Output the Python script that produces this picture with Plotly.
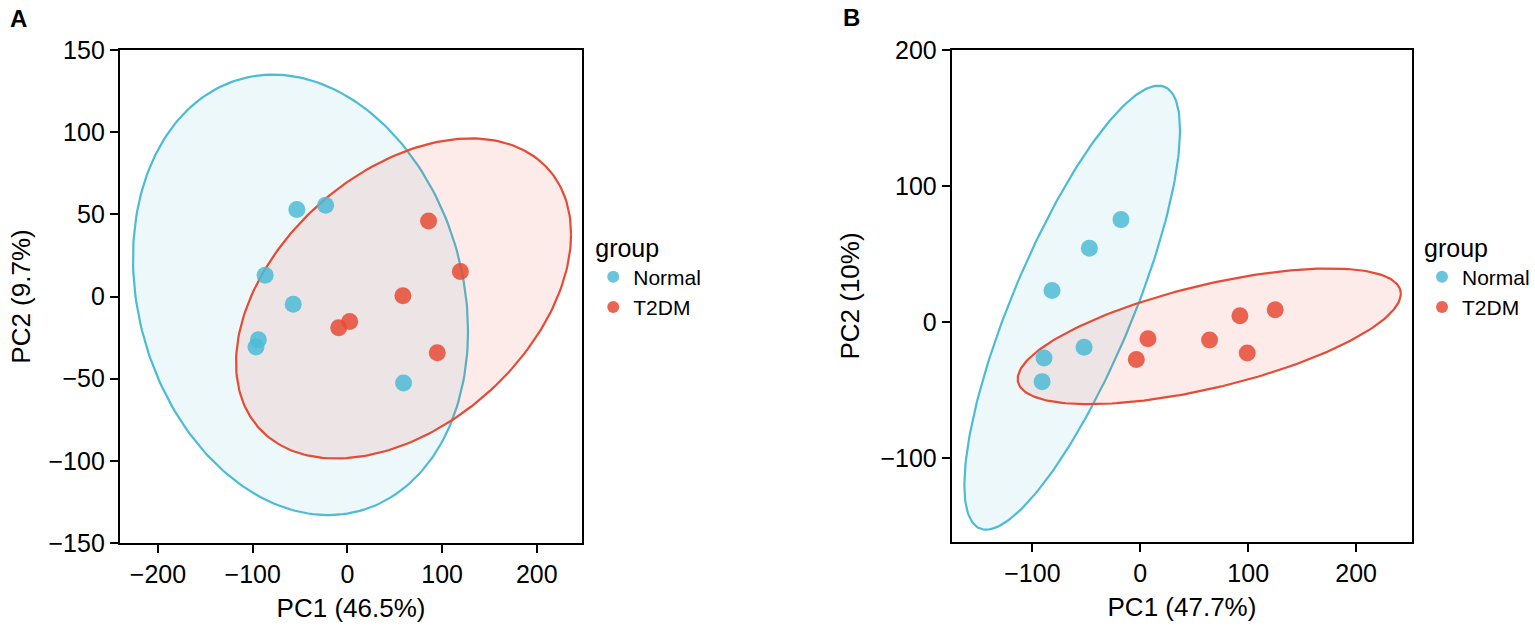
import numpy as np
import plotly.graph_objects as go

# ---------------- data ----------------
groups = ["Normal", "T2DM"]
colors_line = {"Normal": "#4DBBD5", "T2DM": "#E64B35"}
colors_pt = {"Normal": "rgba(77,187,213,0.85)", "T2DM": "rgba(230,75,53,0.85)"}
colors_fill = {"Normal": "rgba(77,187,213,0.10)", "T2DM": "rgba(230,75,53,0.11)"}

# Panel A scores
a_normal_pc1 = [-53.4, -23.0, -86.9, -57.2, -94.0, -96.5, 59.3]
a_normal_pc2 = [52.9, 55.5, 12.9, -4.7, -26.3, -30.8, -52.7]
a_t2dm_pc1 = [85.7, 119.3, 58.6, 2.4, -9.2, 94.9]
a_t2dm_pc2 = [46.0, 15.2, 0.4, -15.2, -19.0, -34.2]

# Panel B scores
b_normal_pc1 = [-17.9, -47.2, -81.8, -52.1, -89.2, -91.0]
b_normal_pc2 = [75.3, 54.3, 23.2, -18.6, -26.4, -43.8]
b_t2dm_pc1 = [7.1, -3.7, 64.2, 92.3, 125.0, 99.1]
b_t2dm_pc2 = [-12.2, -27.6, -13.2, 4.6, 9.0, -22.7]

# 95% ellipse parameters: centre x, centre y, half-width x, half-height y, correlation
a_normal_ellipse = [-49.5, 1.0, 176.9, 134.0, -0.165]
a_t2dm_ellipse = [59.3, -1.2, 176.9, 97.4, 0.402]
b_normal_ellipse = [-63.1, 10.6, 99.9, 163.2, 0.799]
b_t2dm_ellipse = [63.9, -10.5, 177.5, 49.9, 0.627]

a_xticks = [-200, -100, 0, 100, 200]
a_yticks = [-150, -100, -50, 0, 50, 100, 150]
b_xticks = [-100, 0, 100, 200]
b_yticks = [-100, 0, 100, 200]

a_xtitle, a_ytitle = "PC1 (46.5%)", "PC2 (9.7%)"
b_xtitle, b_ytitle = "PC1 (47.7%)", "PC2 (10%)"
legend_title = "group"
panel_labels = ["A", "B"]

# ---------------- figure ----------------
W, H = 1535, 632
FONT = "Liberation Sans, Arial, sans-serif"


def ellipse_path(p, n=240):
    cx, cy, sx, sy, rho = p
    t = np.linspace(0, 2 * np.pi, n)
    x = cx + sx * np.cos(t)
    y = cy + sy * (rho * np.cos(t) + np.sqrt(1 - rho ** 2) * np.sin(t))
    return x, y


fig = go.Figure()

panels = [
    ("x", "y", "legend", {"Normal": (a_normal_pc1, a_normal_pc2, a_normal_ellipse),
                          "T2DM": (a_t2dm_pc1, a_t2dm_pc2, a_t2dm_ellipse)}),
    ("x2", "y2", "legend2", {"Normal": (b_normal_pc1, b_normal_pc2, b_normal_ellipse),
                             "T2DM": (b_t2dm_pc1, b_t2dm_pc2, b_t2dm_ellipse)}),
]

for xa, ya, leg, d in panels:
    for g in groups:
        ex, ey = ellipse_path(d[g][2])
        fig.add_trace(go.Scatter(x=ex, y=ey, mode="lines", fill="toself",
                                 fillcolor=colors_fill[g],
                                 line=dict(color=colors_line[g], width=2.2),
                                 showlegend=False, hoverinfo="skip",
                                 xaxis=xa, yaxis=ya))
    for g in groups:
        fig.add_trace(go.Scatter(x=d[g][0], y=d[g][1], mode="markers", name=g,
                                 marker=dict(color=colors_pt[g], size=17),
                                 legend=leg, xaxis=xa, yaxis=ya))

axis_common = dict(showline=True, linecolor="black", linewidth=2, mirror=True,
                   ticks="outside", ticklen=8, tickwidth=2, tickcolor="black",
                   showgrid=False, zeroline=False, automargin=False,
                   tickfont=dict(family=FONT, size=25, color="black"))


def px_x(p):
    return p / W


def px_y(p):
    return 1 - p / H


legend_common = dict(xanchor="left", yanchor="top",
                     title=dict(text=legend_title, font=dict(size=25, family=FONT)),
                     font=dict(size=21, family=FONT), bgcolor="rgba(0,0,0,0)",
                     tracegroupgap=0, itemsizing="constant", itemwidth=30)

fig.update_layout(
    template="none",
    width=W, height=H,
    margin=dict(l=0, r=0, t=0, b=0, pad=0),
    paper_bgcolor="white", plot_bgcolor="white",
    font=dict(family=FONT, color="black"),
    xaxis=dict(domain=[px_x(120), px_x(583)], range=[-240.3, 248], tickvals=a_xticks,
               title=dict(text=a_xtitle, font=dict(size=26, family=FONT), standoff=12),
               anchor="y", **axis_common),
    yaxis=dict(domain=[px_y(543), px_y(50)], range=[-150, 150], tickvals=a_yticks,
               title=dict(text=a_ytitle, font=dict(size=26, family=FONT), standoff=10),
               anchor="x", **axis_common),
    xaxis2=dict(domain=[px_x(953), px_x(1414)], range=[-174.7, 251.9], tickvals=b_xticks,
                title=dict(text=b_xtitle, font=dict(size=26, family=FONT), standoff=12),
                anchor="y2", **axis_common),
    yaxis2=dict(domain=[px_y(542), px_y(50)], range=[-161.7, 200], tickvals=b_yticks,
                title=dict(text=b_ytitle, font=dict(size=26, family=FONT), standoff=13),
                anchor="x2", **axis_common),
    legend=dict(x=px_x(594), y=px_y(224), **legend_common),
    legend2=dict(x=px_x(1424), y=px_y(224), **legend_common),
    annotations=[
        dict(text="<b>%s</b>" % panel_labels[0], x=px_x(18.5), y=px_y(18),
             xref="paper", yref="paper", xanchor="center", yanchor="middle",
             showarrow=False, font=dict(size=24, family=FONT, color="black")),
        dict(text="<b>%s</b>" % panel_labels[1], x=px_x(853), y=px_y(17),
             xref="paper", yref="paper", xanchor="center", yanchor="middle",
             showarrow=False, font=dict(size=24, family=FONT, color="black")),
    ],
)

fig.write_html("out.html", config={"displayModeBar": False},
               post_script="document.body.style.margin='0';document.body.style.overflow='hidden';")
